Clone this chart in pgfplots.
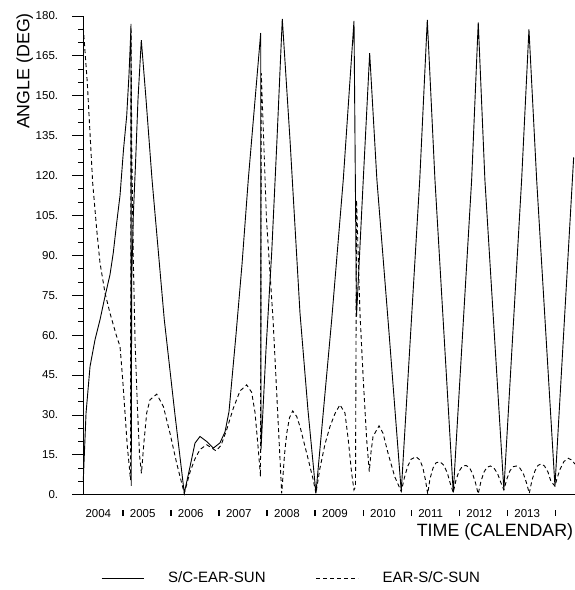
\documentclass[border=0pt]{standalone}
\usepackage{fontspec}
\setmainfont{Liberation Sans}
\usepackage{pgfplots}
\pgfplotsset{compat=1.18}
\newcommand{\yb}{\rule[1.2bp]{1.4bp}{6bp}\hspace{6.3bp}}
\begin{document}
\begin{tikzpicture}
\path[use as bounding box] (-83.3bp,-95.3bp) rectangle (491.7bp,494.7bp);
\begin{axis}[
  at={(0,0)}, anchor=south west,
  scale only axis, width=491.7bp, height=478.7bp,
  xmin=2004.18, xmax=2014.41, ymin=0, ymax=180,
  axis x line=bottom, axis y line=left,
  axis line style={-, line width=0.8bp},
  tick align=outside, major tick length=11bp, minor tick length=5bp,
  every tick/.style={line width=0.8bp, black},
  ytick={0,15,...,180},
  yticklabels={0.,15.,30.,45.,60.,75.,90.,105.,120.,135.,150.,165.,180.},
  minor y tick num=2,
  yticklabel style={font=\fontsize{11.5bp}{13bp}\selectfont, anchor=east, inner sep=0pt, xshift=-14bp},
  xtick=\empty,
  minor xtick={2004.18,2004.4124,...,2014.42},
  extra x ticks={2004.237,2005,2006,2007,2008,2009,2010,2011,2012,2013,2014},
  extra x tick labels={2004,\yb 2005,\yb 2006,\yb 2007,\yb 2008,\yb 2009,\yb 2010,\yb 2011,\yb 2012,\yb 2013,\yb},
  extra x tick style={major tick length=0pt, xticklabel style={anchor=west, inner sep=0pt, xshift=-0.7bp, yshift=-18.6bp, font=\fontsize{11.5bp}{13bp}\selectfont}},
  legend columns=2,
  legend image code/.code={\draw[#1] (0bp,0bp) -- (42bp,0bp);},
  legend style={at={(0.036,-0.174)}, anchor=west, draw=none, fill=none, inner sep=0pt,
    font=\fontsize{15bp}{17bp}\selectfont, nodes={inner sep=0pt},
    /tikz/every odd column/.append style={column sep=24bp},
    /tikz/every even column/.append style={column sep=50bp}},
  legend cell align=left,
  clip=false,
]
\addplot[black, line width=0.9bp] coordinates {
(2004.18,5.5) (2004.237,30.7) (2004.32,48.2) (2004.424,58.3) (2004.528,65.8) (2004.632,74.6)
(2004.736,82.8) (2004.804,91.0) (2004.875,102.3) (2004.944,112.5) (2005.017,129.9) (2005.083,142.4)
(2005.131,158.1) (2005.162,171.3) (2005.173,177.0) (2005.177,3.3) (2005.187,80.9) (2005.221,105.3)
(2005.266,124.2) (2005.318,148.7) (2005.387,170.9) (2005.485,148.7) (2005.610,118.5) (2005.865,65.8)
(2006.088,30.0) (2006.281,0.6) (2006.400,10.5) (2006.504,19.4) (2006.608,21.9) (2006.747,20.0)
(2006.885,17.5) (2007.024,19.5) (2007.128,23.6) (2007.211,31.2) (2007.357,60.2) (2007.482,86.6)
(2007.613,118.6) (2007.742,146.1) (2007.871,173.6) (2007.877,17.0) (2007.981,54.5) (2008.100,91.1)
(2008.210,133.6) (2008.320,178.9) (2008.480,133.6) (2008.688,68.4) (2008.854,31.9) (2009.020,0.6)
(2009.348,65.8) (2009.589,118.5) (2009.812,178.2) (2009.864,67.0) (2010.005,118.5) (2010.138,166.0)
(2010.288,118.5) (2010.544,60.2) (2010.795,1.2) (2011.180,118.5) (2011.337,178.5) (2011.496,118.5)
(2011.877,0.8) (2012.260,118.5) (2012.397,177.6) (2012.535,118.5) (2012.930,1.8) (2013.300,118.5)
(2013.452,175.0) (2013.612,118.5) (2013.993,3.2) (2014.382,126.8)
};
\addlegendentry{S/C-EAR-SUN}
\addplot[black, line width=0.9bp, dash pattern=on 4bp off 3bp] coordinates {
(2004.18,175.4) (2004.263,155.0) (2004.375,117.3) (2004.459,99.7) (2004.527,87.2) (2004.631,75.9)
(2004.735,68.3) (2004.874,59.5) (2004.944,55.8) (2005.000,43.2) (2005.048,30.7) (2005.096,18.1)
(2005.137,10.6) (2005.162,5.5) (2005.173,175.8) (2005.189,129.8) (2005.221,88.4) (2005.256,58.3)
(2005.308,32.0) (2005.350,15.0) (2005.390,8.0) (2005.443,20.0) (2005.499,30.7) (2005.568,35.7)
(2005.708,37.8) (2005.845,33.2) (2005.984,23.1) (2006.123,11.8) (2006.281,0.5) (2006.400,8.5)
(2006.504,13.5) (2006.608,17.0) (2006.747,18.8) (2006.941,16.5) (2007.045,18.5) (2007.164,24.5)
(2007.301,32.5) (2007.440,39.0) (2007.579,41.3) (2007.683,38.5) (2007.752,31.0) (2007.821,17.0)
(2007.867,6.8) (2007.883,158.5) (2007.991,103.5) (2008.128,65.8) (2008.232,28.1) (2008.308,0.5)
(2008.366,15.0) (2008.412,23.0) (2008.470,29.0) (2008.537,31.5) (2008.620,29.4) (2008.689,25.6)
(2008.828,15.6) (2008.965,5.5) (2009.020,0.5) (2009.104,10.0) (2009.208,19.0) (2009.312,25.6)
(2009.416,30.5) (2009.520,33.8) (2009.624,30.7) (2009.693,20.6) (2009.763,8.1) (2009.811,1.8)
(2009.843,3.0) (2009.865,110.8) (2009.936,68.3) (2010.005,43.2) (2010.076,20.6) (2010.130,8.7)
(2010.166,16.0) (2010.208,21.9) (2010.333,25.9) (2010.416,23.1) (2010.520,15.6) (2010.659,6.8)
(2010.795,1.2) (2010.862,6.5) (2010.925,10.5) (2010.998,13.3) (2011.102,14.3) (2011.185,13.0)
(2011.247,10.0) (2011.299,5.5) (2011.345,0.3) (2011.393,6.0) (2011.456,10.0) (2011.518,12.0)
(2011.601,12.4) (2011.684,11.0) (2011.757,8.0) (2011.819,4.0) (2011.877,0.8) (2011.934,5.5)
(2011.996,8.8) (2012.069,10.7) (2012.142,11.0) (2012.214,10.2) (2012.277,8.0) (2012.339,4.5)
(2012.397,0.3) (2012.453,5.0) (2012.516,8.5) (2012.578,10.3) (2012.651,10.8) (2012.724,10.0)
(2012.797,8.0) (2012.869,4.5) (2012.930,1.8) (2012.994,6.0) (2013.057,9.0) (2013.119,10.5)
(2013.192,10.8) (2013.265,10.0) (2013.338,7.8) (2013.400,4.5) (2013.459,0.5) (2013.515,5.5)
(2013.578,9.0) (2013.640,11.0) (2013.703,11.6) (2013.775,10.8) (2013.848,8.5) (2013.910,5.0)
(2013.993,3.2) (2014.035,6.0) (2014.097,9.5) (2014.181,12.5) (2014.270,13.7) (2014.346,13.0)
(2014.408,11.5)
};
\addlegendentry{EAR-S/C-SUN}
\end{axis}
\node[anchor=base east, inner sep=0pt, font=\fontsize{17.8bp}{20bp}\selectfont] at (490bp,-41.3bp) {TIME (CALENDAR)};
\node[anchor=base east, inner sep=0pt, rotate=90, font=\fontsize{17.8bp}{20bp}\selectfont] at (-54bp,481.7bp) {ANGLE (DEG)};
\end{tikzpicture}
\end{document}
